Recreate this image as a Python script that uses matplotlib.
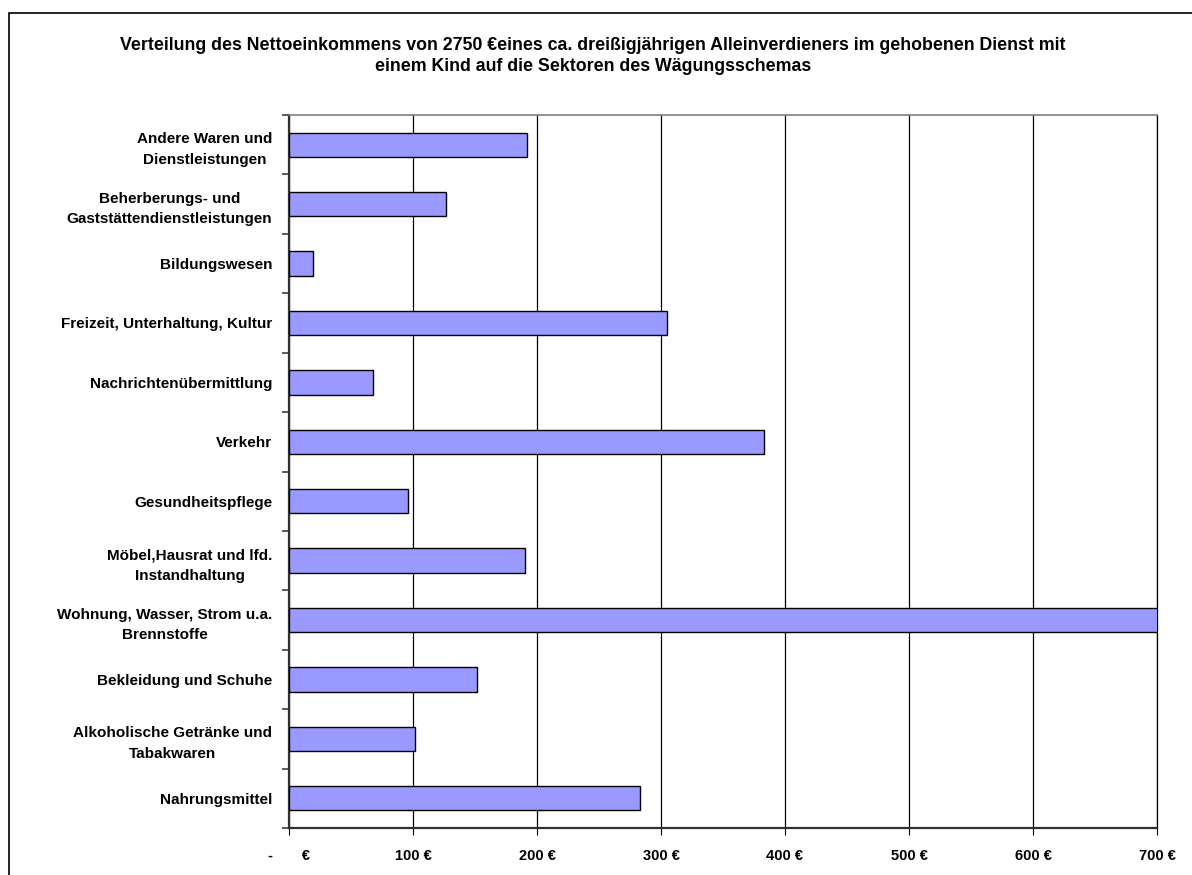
import matplotlib.pyplot as plt
from matplotlib.patches import Rectangle

# Kategorien (von unten nach oben) und Beträge in Euro
kategorien = [
    'Nahrungsmittel',
    'Alkoholische Getränke und\nTabakwaren',
    'Bekleidung und Schuhe',
    'Wohnung, Wasser, Strom u.a.\nBrennstoffe',
    'Möbel,Hausrat und lfd.\nInstandhaltung',
    'Gesundheitspflege',
    'Verkehr',
    'Nachrichtenübermittlung',
    'Freizeit, Unterhaltung, Kultur',
    'Bildungswesen',
    'Beherberungs- und\nGaststättendienstleistungen',
    'Andere Waren und\nDienstleistungen',
]
betraege = [283, 102, 152, 750, 190, 96, 383, 68, 305, 19.5, 127, 192]

x_ticks = [0, 100, 200, 300, 400, 500, 600, 700]
x_labels = ['-       €', '100 €', '200 €', '300 €', '400 €', '500 €', '600 €', '700 €']

titel = ('Verteilung des Nettoeinkommens von 2750 €eines ca. dreißigjährigen Alleinverdieners im gehobenen Dienst mit\n'
         'einem Kind auf die Sektoren des Wägungsschemas')

plt.rcParams['font.family'] = ['Liberation Sans', 'DejaVu Sans']

fig = plt.figure(figsize=(11.92, 8.75), dpi=100)
ax = fig.add_axes([289 / 1192, 1 - 828 / 875, (1157 - 289) / 1192, (828 - 115) / 875])

# Rahmen um das Diagramm
fig.patches.append(Rectangle((9 / 1192, -0.1), 1.2, 1.1 - 13 / 875, transform=fig.transFigure,
                             fill=False, edgecolor='black', linewidth=1.2))

pos = list(range(len(kategorien)))
ax.barh(pos, betraege, height=0.41, color='#9999FF', edgecolor='black', linewidth=1, zorder=3)

ax.set_xlim(0, 700)
ax.set_ylim(-0.5, len(kategorien) - 0.5)
ax.set_xticks(x_ticks)
ax.set_xticklabels(x_labels, fontsize=10.5, fontweight='bold')
ax.tick_params(axis='x', length=5, pad=10)
ax.grid(axis='x', color='black', linewidth=0.9, zorder=0)

# Kategoriebeschriftungen ohne Tickstriche, Striche an den Grenzen
ax.set_yticks(pos)
ax.set_yticklabels(kategorien, fontsize=11, fontweight='bold', ha='right',
                   multialignment='center', linespacing=1.6)
ax.tick_params(axis='y', length=0, pad=12)
ax.set_yticks([p - 0.5 for p in pos] + [len(pos) - 0.5], minor=True)
ax.tick_params(axis='y', which='minor', length=5, width=1.2, color='#404040')

for s in ['left', 'bottom']:
    ax.spines[s].set_linewidth(1.6)
    ax.spines[s].set_color('#303030')
ax.spines['top'].set_color('#808080')
ax.spines['top'].set_linewidth(1.2)
ax.spines['right'].set_color('black')
ax.spines['right'].set_linewidth(0.9)

fig.text(0.5 - 3 / 1192, 1 - 56 / 875, titel, ha='center', va='center', fontsize=12.8,
         fontweight='bold', linespacing=1.35)

fig.savefig('out.png', dpi=100)
